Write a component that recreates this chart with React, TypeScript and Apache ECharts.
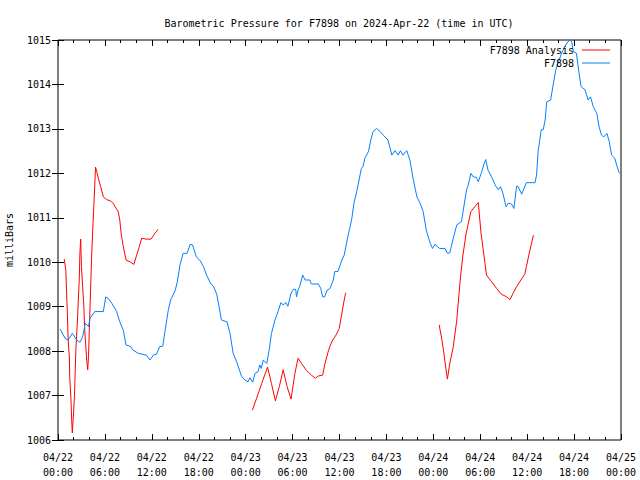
import React, { useEffect, useRef } from "react";
import * as echarts from "echarts";

// Hours since 2024-04-22 00:00 UTC
const xTickLabels = [
  "04/22\n00:00", "04/22\n06:00", "04/22\n12:00", "04/22\n18:00",
  "04/23\n00:00", "04/23\n06:00", "04/23\n12:00", "04/23\n18:00",
  "04/24\n00:00", "04/24\n06:00", "04/24\n12:00", "04/24\n18:00",
  "04/25\n00:00",
];

const stationHours = [
  0.26, 0.9, 1.3, 1.83, 2.4, 2.8, 3.15, 3.5, 3.9, 4.1, 4.7, 5.8, 6.1, 6.4, 6.87, 7.5, 7.9, 8.35, 8.7, 9.3,
  9.6, 10.27, 11.3, 11.76, 12.2, 12.6, 13.0, 13.4, 13.7, 14.1, 14.4, 15.0, 15.26, 15.6, 16.0, 16.5, 16.9, 17.2, 17.7, 18.2,
  18.6, 19.0, 19.5, 19.9, 20.3, 20.6, 20.9, 21.6, 22.0, 22.4, 22.85, 23.5, 23.9, 24.3, 24.55, 24.9, 25.2, 25.6, 25.8, 26.0,
  26.25, 26.7, 27.0, 27.3, 27.75, 28.2, 28.5, 28.8, 29.15, 29.4, 29.8, 30.1, 30.4, 30.5, 30.7, 30.9, 31.3, 31.6, 32.2, 32.4,
  33.3, 33.6, 33.85, 34.1, 34.4, 34.8, 35.2, 35.4, 35.8, 36.3, 36.6, 36.9, 37.25, 37.55, 37.85, 38.2, 38.5, 38.8, 39.0, 39.25,
  39.7, 40.0, 40.3, 40.75, 41.2, 41.6, 42.2, 42.7, 43.1, 43.5, 43.8, 44.1, 44.6, 45.0, 45.4, 45.9, 46.3, 46.7, 47.1, 47.6,
  47.9, 48.2, 48.8, 49.5, 49.8, 50.1, 50.55, 51.0, 51.6, 51.8, 52.25, 52.5, 52.8, 53.1, 53.5, 53.75, 54.2, 54.5, 54.7, 55.0,
  55.45, 55.9, 56.3, 56.6, 56.9, 57.3, 57.6, 58.0, 58.3, 58.65, 58.85, 59.3, 59.9, 61.0, 61.2, 61.4, 61.8, 62.05, 62.3, 62.5,
  63.0, 63.35, 63.65, 64.0, 64.4, 64.8, 65.2, 65.5, 65.7, 65.9, 66.3, 66.6, 66.9, 67.4, 67.8, 68.1, 68.45, 68.9, 69.2, 69.5,
  69.8, 70.2, 70.5, 70.8, 71.2, 71.5, 71.8,
];
const stationValues = [
  1008.5, 1008.29, 1008.25, 1008.4, 1008.25, 1008.2, 1008.32, 1008.63, 1008.55, 1008.74, 1008.89, 1008.89, 1009.22, 1009.19, 1009.08, 1008.89, 1008.66, 1008.47, 1008.14, 1008.1,
  1008.02, 1007.95, 1007.91, 1007.8, 1007.91, 1007.93, 1008.1, 1008.11, 1008.47, 1008.92, 1009.15, 1009.37, 1009.56, 1009.94, 1010.2, 1010.2, 1010.4, 1010.39, 1010.12, 1010.03,
  1009.9, 1009.71, 1009.53, 1009.45, 1009.28, 1009.0, 1008.7, 1008.66, 1008.4, 1007.95, 1007.76, 1007.42, 1007.35, 1007.31, 1007.4, 1007.3, 1007.5, 1007.54, 1007.69, 1007.61,
  1007.8, 1007.72, 1008.02, 1008.4, 1008.7, 1008.92, 1009.09, 1009.04, 1009.09, 1009.01, 1009.3, 1009.39, 1009.39, 1009.22, 1009.37, 1009.45, 1009.71, 1009.6, 1009.6, 1009.51,
  1009.51, 1009.41, 1009.22, 1009.22, 1009.37, 1009.41, 1009.6, 1009.79, 1009.79, 1010.05, 1010.16, 1010.43, 1010.72, 1010.95, 1011.33, 1011.59, 1011.85, 1012.11, 1012.15, 1012.34,
  1012.49, 1012.75, 1012.94, 1013.01, 1012.94, 1012.86, 1012.75, 1012.41, 1012.51, 1012.41, 1012.51, 1012.41, 1012.51, 1012.3, 1011.89, 1011.47, 1011.33, 1011.14, 1010.72, 1010.43,
  1010.31, 1010.4, 1010.31, 1010.31, 1010.2, 1010.21, 1010.54, 1010.84, 1010.91, 1011.14, 1011.63, 1011.76, 1012.0, 1011.92, 1011.91, 1011.81, 1012.04, 1012.22, 1012.31, 1012.07,
  1011.92, 1011.74, 1011.63, 1011.7, 1011.55, 1011.25, 1011.33, 1011.31, 1011.21, 1011.71, 1011.7, 1011.53, 1011.79, 1011.79, 1011.96, 1012.49, 1012.98, 1012.98, 1013.2, 1013.61,
  1013.65, 1014.02, 1014.32, 1014.51, 1014.7, 1014.85, 1014.96, 1015.0, 1014.96, 1014.74, 1014.7, 1014.29, 1013.95, 1013.88, 1013.65, 1013.72, 1013.5, 1013.35, 1013.05, 1012.86,
  1012.82, 1012.9, 1012.71, 1012.41, 1012.34, 1012.15, 1012.0,
];

// null values mark gaps in the analysis series
const analysisHours = [
  0.8, 1.0, 1.1, 1.2, 1.3, 1.45, 1.5, 1.66, 1.75, 1.83, 1.96, 2.1, 2.2, 2.3, 2.47, 2.6, 2.73, 2.8, 2.9, 3.0,
  3.15, 3.3, 3.4, 3.5, 3.67, 3.8, 3.9, 4.0, 4.1, 4.2, 4.3, 4.44, 4.6, 4.73, 4.8, 4.95, 5.15, 5.45, 5.8, 6.2,
  6.7, 7.0, 7.3, 7.7, 7.9, 8.1, 8.35, 8.7, 9.2, 9.7, 10.06, 10.4, 10.7, 11.25, 11.9, 12.4, 12.8,
  18.0,
  24.85, 25.4, 26.05, 26.8, 27.3, 27.8, 28.3, 28.8, 29.3, 29.8, 30.3, 30.7, 31.15, 31.8, 32.4, 32.9, 33.3, 33.85, 34.1, 34.6,
  35.0, 35.55, 35.97, 36.3, 36.6, 36.8,
  42.0,
  48.75, 49.06, 49.3, 49.6, 49.8, 50.1, 50.55, 51.0, 51.4, 51.75, 52.2, 52.8, 53.3, 53.75, 54.1, 54.5, 54.8, 55.45, 56.1, 56.7,
  57.4, 57.8, 58.2, 58.65, 59.2, 59.7, 59.9, 60.35, 60.8,
];
const analysisValues = [
  1010.07, 1009.82, 1009.3, 1008.85, 1008.25, 1007.87, 1007.42, 1006.9, 1006.45, 1006.16, 1006.52, 1006.97, 1007.54, 1008.1, 1008.63, 1009.15, 1009.67, 1010.2, 1010.52, 1009.9,
  1009.45, 1009.04, 1008.55, 1008.25, 1007.8, 1007.58, 1007.87, 1008.44, 1009.0, 1009.56, 1010.12, 1010.72, 1011.33, 1011.85, 1012.14, 1012.04, 1011.89, 1011.7, 1011.47, 1011.41,
  1011.38, 1011.34, 1011.25, 1011.14, 1010.95, 1010.61, 1010.35, 1010.05, 1010.01, 1009.95, 1010.16, 1010.35, 1010.54, 1010.52, 1010.52, 1010.65, 1010.74,
  null,
  1006.67, 1006.94, 1007.27, 1007.64, 1007.27, 1006.88, 1007.2, 1007.58, 1007.2, 1006.92, 1007.5, 1007.84, 1007.72, 1007.56, 1007.46, 1007.39, 1007.44, 1007.46, 1007.69, 1008.02,
  1008.21, 1008.36, 1008.51, 1008.85, 1009.15, 1009.31,
  null,
  1008.59, 1008.29, 1008.02, 1007.61, 1007.37, 1007.72, 1008.1, 1008.7, 1009.53, 1010.12, 1010.65, 1011.14, 1011.25, 1011.34, 1010.65, 1010.12, 1009.71, 1009.56, 1009.41, 1009.28,
  1009.22, 1009.16, 1009.3, 1009.45, 1009.6, 1009.73, 1009.9, 1010.27, 1010.61,
];

const TITLE = "Barometric Pressure for F7898 on 2024-Apr-22 (time in UTC)";
const FONT = "DejaVu Sans Mono";

export default function App() {
  const ref = useRef<HTMLDivElement>(null);
  useEffect(() => {
    if (!ref.current) return;
    const chart = echarts.init(ref.current, null, { renderer: "svg" });
    const axisLabelStyle = { fontFamily: FONT, fontSize: 10, color: "#000" };
    const xBase = {
      type: "value",
      min: 0,
      max: 72,
      interval: 6,
      splitLine: { show: false },
      axisLine: { show: false },
      axisTick: { show: true, inside: true, length: 6, lineStyle: { color: "#000" } },
      minorTick: { show: true, splitNumber: 3, length: 3, lineStyle: { color: "#000" } },
    };
    const yBase = {
      type: "value",
      min: 1006,
      max: 1015,
      interval: 1,
      splitLine: { show: false },
      axisLine: { show: false },
      axisTick: { show: true, inside: true, length: 6, lineStyle: { color: "#000" } },
    };
    const legendBase = {
      right: 30,
      padding: 0,
      icon: "rect",
      itemWidth: 28,
      itemHeight: 1,
      align: "right",
      textStyle: { fontFamily: FONT, fontSize: 10, color: "#000", padding: [0, 3, 0, 0] },
    };
    const option = {
      animation: false,
      backgroundColor: "#fff",
      graphic: [
        {
          type: "text",
          x: 339,
          y: 23,
          style: {
            text: TITLE,
            textAlign: "center",
            textVerticalAlign: "middle",
            fontFamily: FONT,
            fontSize: 10,
            fill: "#000",
          },
        },
      ],
      grid: {
        left: 58,
        right: 19,
        top: 40,
        bottom: 40,
        containLabel: false,
        outerBoundsMode: "none",
        show: true,
        borderColor: "#000",
        borderWidth: 1,
        backgroundColor: "transparent",
      },
      legend: [
        { ...legendBase, data: ["F7898 Analysis"], top: 45 },
        { ...legendBase, data: ["F7898"], top: 58 },
      ],
      xAxis: [
        {
          ...xBase,
          position: "bottom",
          axisLabel: {
            ...axisLabelStyle,
            lineHeight: 15,
            margin: 10,
            formatter: (v: number) => xTickLabels[Math.round(v / 6)] ?? "",
          },
        },
        { ...xBase, position: "top", axisLabel: { show: false } },
      ],
      yAxis: [
        {
          ...yBase,
          position: "left",
          name: "milliBars",
          nameLocation: "middle",
          nameRotate: 90,
          nameGap: 44,
          nameTextStyle: { fontFamily: FONT, fontSize: 10, color: "#000" },
          axisLabel: { ...axisLabelStyle, margin: 7, formatter: (v: number) => String(v) },
        },
        { ...yBase, position: "right", axisLabel: { show: false } },
      ],
      series: [
        {
          name: "F7898 Analysis",
          type: "line",
          data: analysisHours.map((h, i) => [h, analysisValues[i]]),
          showSymbol: false,
          symbol: "none",
          connectNulls: false,
          color: "#ff0000",
          lineStyle: { color: "#ff0000", width: 1 },
        },
        {
          name: "F7898",
          type: "line",
          data: stationHours.map((h, i) => [h, stationValues[i]]),
          showSymbol: false,
          symbol: "none",
          color: "#0080ff",
          lineStyle: { color: "#0080ff", width: 1 },
        },
      ],
    };
    chart.setOption(option as any);
    return () => chart.dispose();
  }, []);
  return (
    <div
      ref={ref}
      style={{ position: "absolute", left: 0, top: 0, width: 640, height: 480 }}
    />
  );
}
